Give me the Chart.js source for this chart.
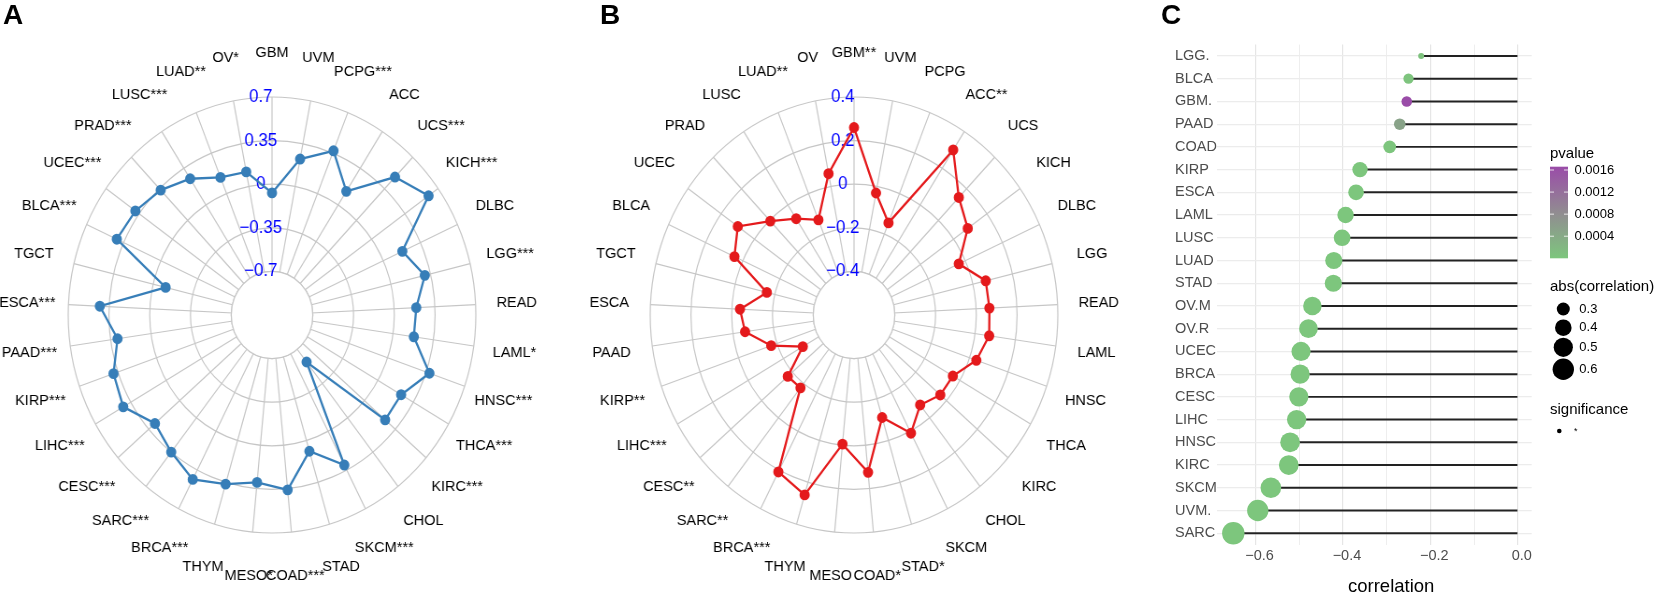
<!DOCTYPE html>
<html>
<head>
<meta charset="utf-8">
<title>radar + lollipop</title>
<script src="https://cdn.jsdelivr.net/npm/chart.js@4.4.1/dist/chart.umd.min.js"></script>
<style>
  html, body { margin: 0; padding: 0; background: #fff; }
  body { position: relative; width: 1654px; height: 594px; overflow: hidden; font-family: "Liberation Sans", Arial, sans-serif; }
  .box { position: absolute; top: 0; height: 594px; }
  /* the source figure is squeezed horizontally, so the radars are too */
  .radar { width: 620px; transform: scaleX(0.935); transform-origin: 50% 50%; }
  .tag { position: absolute; top: 1px; font: bold 28px/28px "Liberation Sans", Arial, sans-serif; color: #000; }
</style>
</head>
<body>
<div class="box radar" style="left:-38px"><canvas id="radarA"></canvas></div>
<div class="box radar" style="left:544px"><canvas id="radarB"></canvas></div>
<div class="box" style="left:1160px;width:494px"><canvas id="lolli"></canvas></div>
<div class="tag" style="left:3px">A</div>
<div class="tag" style="left:600px">B</div>
<div class="tag" style="left:1161px">C</div>
<script>
// -----------------------
// data: panel A (blue radar)
// -----------------------
const catsA = ["GBM", "UVM", "PCPG***", "ACC", "UCS***", "KICH***", "DLBC", "LGG***", "READ", "LAML*",
  "HNSC***", "THCA***", "KIRC***", "CHOL", "SKCM***", "STAD", "COAD***", "MESO*", "THYM", "BRCA***",
  "SARC***", "CESC***", "LIHC***", "KIRP***", "PAAD***", "ESCA***", "TGCT", "BLCA***", "UCEC***",
  "PRAD***", "LUSC***", "LUAD**", "OV*"];
const corrA = [-0.07, 0.225, 0.37, 0.13, 0.48, 0.60, 0.18, 0.30, 0.19, 0.18,
  0.38, 0.23, 0.235, -0.57, 0.305, 0.09, 0.36, 0.30, 0.365, 0.435,
  0.35, 0.28, 0.425, 0.39, 0.29, 0.43, -0.11, 0.415, 0.39,
  0.335, 0.25, 0.14, 0.12];
const ticksA = [-0.7, -0.35, 0, 0.35, 0.7];

// -----------------------
// data: panel B (red radar)
// -----------------------
const catsB = ["GBM**", "UVM", "PCPG", "ACC**", "UCS", "KICH", "DLBC", "LGG", "READ", "LAML",
  "HNSC", "THCA", "KIRC", "CHOL", "SKCM", "STAD*", "COAD*", "MESO", "THYM", "BRCA***",
  "SARC**", "CESC**", "LIHC***", "KIRP**", "PAAD", "ESCA", "TGCT", "BLCA", "UCEC",
  "PRAD", "LUSC", "LUAD**", "OV"];
const corrB = [0.26, -0.03, -0.145, 0.30, 0.145, 0.085, -0.035, 0.065, 0.065, 0.07,
  0.035, -0.04, -0.04, -0.075, 0.01, -0.11, 0.125, -0.005, 0.26, 0.21,
  -0.175, -0.17, -0.31, -0.17, -0.06, -0.04, -0.16, 0.045, 0.10,
  -0.005, -0.075, -0.13, 0.06];
const ticksB = [-0.4, -0.2, 0, 0.2, 0.4];

// -----------------------
// data: panel C (lollipop)
// -----------------------
const cancerC = ["LGG.", "BLCA", "GBM.", "PAAD", "COAD", "KIRP", "ESCA", "LAML", "LUSC", "LUAD", "STAD",
  "OV.M", "OV.R", "UCEC", "BRCA", "CESC", "LIHC", "HNSC", "KIRC", "SKCM", "UVM.", "SARC"];
const corrC = [-0.221, -0.25, -0.254, -0.27, -0.293, -0.361, -0.37, -0.394, -0.402, -0.421, -0.422,
  -0.47, -0.479, -0.496, -0.498, -0.501, -0.506, -0.521, -0.524, -0.565, -0.595, -0.651];
const pvalC = [0.00006, 0.00003, 0.00166, 0.0005, 0.00002, 0.000004, 0.000003, 0.000001, 0.000001, 0.0000005, 0.0000005,
  0.0000001, 0.0000001, 0.0000001, 0.0000001, 0.0000001, 0.0000001, 0.0000001, 0.0000001, 0.00000001, 0.00000001, 0.00000001];
const xTicksC = [-0.6, -0.4, -0.2, 0.0];
const xMinorC = [-0.5, -0.3, -0.1];
const pTicksC = [0.0004, 0.0008, 0.0012, 0.0016];
const sizeTicksC = [0.3, 0.4, 0.5, 0.6];

const FONT = '"Liberation Sans", Arial, sans-serif';
Chart.defaults.font.family = FONT;
const GRID = "#c6c6c6";

const fmt = v => v === 0 ? "0" : (v < 0 ? "\u2212" : "") + Math.abs(v);

// hole in the middle, blue ring labels, category labels
const radarDecor = {
    id: "radarDecor",
    beforeDatasetsDraw(chart, args, opts) {
        const s = chart.scales.r;
        const ctx = chart.ctx;
        const hole = s.getDistanceFromCenterForValue(opts.ticks[0]);
        ctx.save();
        ctx.beginPath();
        ctx.arc(s.xCenter, s.yCenter, hole, 0, Math.PI * 2);
        ctx.fillStyle = "#fff";
        ctx.fill();
        ctx.strokeStyle = GRID;
        ctx.lineWidth = 1.2;
        ctx.stroke();

        ctx.textAlign = "center";
        ctx.textBaseline = "middle";
        ctx.fillStyle = "#0000ff";
        ctx.font = "18px " + FONT;
        opts.ticks.forEach(v => {
            ctx.fillText(fmt(v), s.xCenter - 12, s.yCenter - s.getDistanceFromCenterForValue(v));
        });

        ctx.fillStyle = "#000";
        ctx.font = "15.5px " + FONT;
        chart.data.labels.forEach((t, i) => {
            const p = s.getPointPosition(i, s.drawingArea + 44);
            ctx.fillText(t, p.x, p.y);
        });
        ctx.restore();
    }
};

function drawRadar(id, cats, values, ticks, color) {
    const step = ticks[1] - ticks[0];
    new Chart(document.getElementById(id), {
        type: "radar",
        data: {
            labels: cats,
            datasets: [{
                data: values,
                borderColor: color,
                backgroundColor: color,
                pointBackgroundColor: color,
                pointBorderColor: color,
                borderWidth: 2.3,
                pointRadius: 4.3,
                pointHoverRadius: 4.3,
                fill: false,
                tension: 0
            }]
        },
        options: {
            responsive: true,
            maintainAspectRatio: false,
            animation: false,
            layout: { padding: { left: 92, right: 92, top: 97, bottom: 61 } },
            plugins: {
                legend: { display: false },
                tooltip: { enabled: false },
                radarDecor: { ticks: ticks }
            },
            scales: {
                r: {
                    min: ticks[0] - step,
                    max: ticks[ticks.length - 1],
                    ticks: { display: false, stepSize: step },
                    grid: { circular: true, color: GRID, lineWidth: 1.2 },
                    angleLines: { color: GRID, lineWidth: 1.2 },
                    pointLabels: { display: false }
                }
            }
        },
        plugins: [radarDecor]
    });
}

drawRadar("radarA", catsA, corrA, ticksA, "#377EB8");
drawRadar("radarB", catsB, corrB, ticksB, "#E41A1C");

// -----------------------
// panel C helpers
// -----------------------
const absC = corrC.map(Math.abs);
const aMin = Math.min(...absC), aMax = Math.max(...absC);
const pMax = Math.max(...pvalC);
const dotSize = a => 3 + 8.2 * Math.sqrt(Math.max(0, (a - aMin) / (aMax - aMin)));

const STOPS = [[0, [125, 198, 125]], [0.5, [145, 140, 145]], [1, [154, 76, 168]]];
function pColor(p) {
    const t = Math.min(1, Math.max(0, p / pMax));
    const k = t <= 0.5 ? 0 : 1;
    const [t0, c0] = STOPS[k], [t1, c1] = STOPS[k + 1];
    const f = (t - t0) / (t1 - t0);
    const c = c0.map((v, j) => Math.round(v + (c1[j] - v) * f));
    return "rgb(" + c.join(",") + ")";
}

const lolliDecor = {
    id: "lolliDecor",
    afterDraw(chart) {
        const ctx = chart.ctx;
        const a = chart.chartArea;
        ctx.save();
        ctx.textBaseline = "middle";
        ctx.fillStyle = "#000";

        // axis title
        ctx.textAlign = "center";
        ctx.font = "18.5px " + FONT;
        ctx.fillText("correlation", (a.left + a.right) / 2 + 17, 587);

        // pvalue colour bar
        ctx.textAlign = "left";
        ctx.font = "15px " + FONT;
        ctx.fillText("pvalue", 390, 154);
        const bx = 390, bw = 18, bTop = 166.7, bBot = 258.3;
        const g = ctx.createLinearGradient(0, bBot, 0, bTop);
        STOPS.forEach(([t, c]) => g.addColorStop(t, "rgb(" + c.join(",") + ")"));
        ctx.fillStyle = g;
        ctx.fillRect(bx, bTop, bw, bBot - bTop);
        ctx.font = "13px " + FONT;
        pTicksC.forEach(p => {
            const y = bBot - p / pMax * (bBot - bTop);
            ctx.strokeStyle = "rgba(255,255,255,0.8)";
            ctx.lineWidth = 1;
            ctx.beginPath();
            ctx.moveTo(bx, y); ctx.lineTo(bx + 4, y);
            ctx.moveTo(bx + bw - 4, y); ctx.lineTo(bx + bw, y);
            ctx.stroke();
            ctx.fillStyle = "#000";
            ctx.fillText(p.toFixed(4), 414.5, y);
        });

        // size legend
        ctx.font = "15px " + FONT;
        ctx.fillText("abs(correlation)", 390, 287.3);
        const sy = [309, 327.7, 347.3, 369.3];
        ctx.font = "13px " + FONT;
        sizeTicksC.forEach((v, i) => {
            ctx.fillStyle = "#000";
            ctx.beginPath();
            ctx.arc(403.3, sy[i], dotSize(v), 0, Math.PI * 2);
            ctx.fill();
            ctx.fillText(String(v), 419.3, sy[i]);
        });

        // significance legend
        ctx.font = "15px " + FONT;
        ctx.fillText("significance", 390, 410);
        ctx.beginPath();
        ctx.arc(399.3, 431, 2.3, 0, Math.PI * 2);
        ctx.fill();
        ctx.font = "9px " + FONT;
        ctx.fillText("*", 414, 432);
        ctx.restore();
    }
};

new Chart(document.getElementById("lolli"), {
    type: "bar",
    data: {
        labels: cancerC,
        datasets: [
            {
                type: "scatter",
                data: corrC.map((v, i) => ({ x: v, y: cancerC[i] })),
                pointRadius: c => dotSize(absC[c.dataIndex]),
                pointHoverRadius: c => dotSize(absC[c.dataIndex]),
                pointBackgroundColor: c => pColor(pvalC[c.dataIndex]),
                pointBorderWidth: 0,
                pointBorderColor: "rgba(0,0,0,0)",
                order: 1
            },
            {
                type: "bar",
                data: corrC.map(v => [v, 0]),
                backgroundColor: "#222",
                barThickness: 1.3,
                order: 2
            }
        ]
    },
    options: {
        indexAxis: "y",
        responsive: true,
        maintainAspectRatio: false,
        animation: false,
        layout: { padding: { left: 15, right: 122.3, top: 44.6, bottom: 0 } },
        plugins: { legend: { display: false }, tooltip: { enabled: false } },
        scales: {
            x: {
                type: "linear",
                min: -0.689,
                max: 0.032,
                afterBuildTicks: s => { s.ticks = xTicksC.concat(xMinorC).map(v => ({ value: v })); },
                afterFit: s => { s.height = 49.4; },
                border: { display: false },
                grid: {
                    drawTicks: false,
                    color: "#e6e6e6",
                    lineWidth: c => xTicksC.includes(c.tick.value) ? 1.2 : 0.7
                },
                ticks: {
                    padding: 3,
                    labelOffset: 4,
                    color: "#4d4d4d",
                    font: { size: 14.5 },
                    autoSkip: false,
                    maxRotation: 0,
                    callback: v => xTicksC.includes(v) ? (v < 0 ? "\u2212" : "") + Math.abs(v).toFixed(1) : ""
                }
            },
            y: {
                type: "category",
                offset: true,
                afterFit: s => { s.width = 41.7; },
                border: { display: false },
                grid: { offset: false, drawTicks: false, color: "#ececec", lineWidth: 1.2 },
                ticks: { crossAlign: "far", color: "#4d4d4d", font: { size: 14.5 }, autoSkip: false }
            }
        }
    },
    plugins: [lolliDecor]
});
</script>
</body>
</html>
